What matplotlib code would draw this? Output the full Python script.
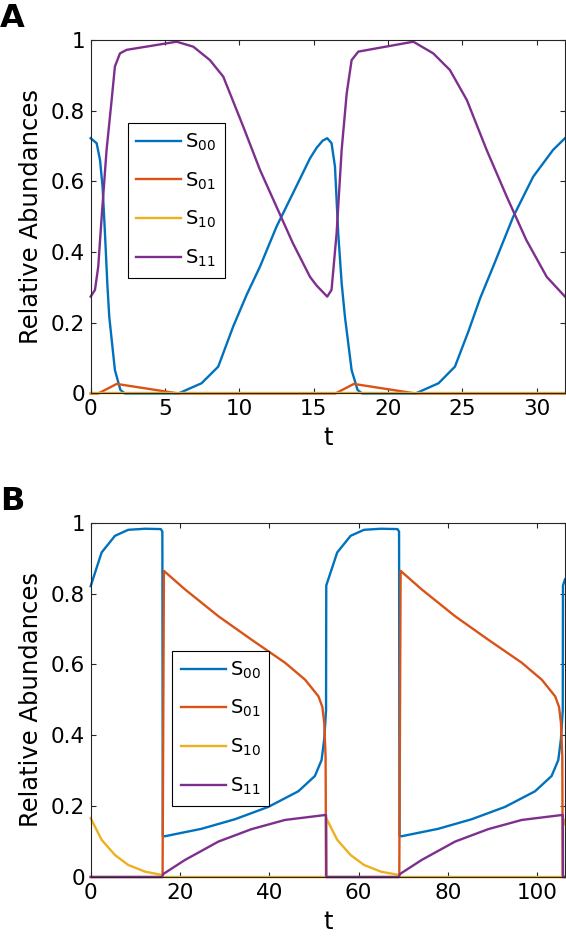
import matplotlib.pyplot as plt

plt.rcParams['mathtext.default'] = 'regular'
plt.rcParams['font.family'] = ['DejaVu Sans']

# panel A
a_x_s00 = [0, 0.4, 0.63, 0.8, 0.96, 1.12, 1.25, 1.63, 2.0, 2.3, 5.9, 7.46, 8.58, 9.59, 10.5, 11.39, 12.5, 13.6,
           14.75, 15.2, 15.6, 15.91, 16.2, 16.43, 16.65, 16.88, 17.1, 17.55, 17.95, 18.25, 21.85, 23.4, 24.5,
           25.4, 26.2, 27.07, 28.42, 29.76, 31.1, 31.9]
a_y_s00 = [0.722, 0.708, 0.66, 0.585, 0.454, 0.31, 0.217, 0.066, 0.01, 0.0, 0.0, 0.029, 0.076, 0.19, 0.28, 0.359,
           0.472, 0.566, 0.665, 0.695, 0.715, 0.722, 0.708, 0.642, 0.453, 0.312, 0.217, 0.066, 0.01, 0.0, 0.0,
           0.029, 0.076, 0.175, 0.27, 0.359, 0.5, 0.613, 0.689, 0.722]
a_x_s01 = [0, 0.51, 1.75, 5.9, 16.46, 17.7, 21.85, 31.9]
a_y_s01 = [0, 0, 0.027, 0, 0, 0.027, 0, 0]
a_x_s10 = [0, 31.9]
a_y_s10 = [0, 0]
a_x_s11 = [0, 0.29, 0.51, 0.74, 1.07, 1.41, 1.63, 1.97, 2.42, 5.78, 6.9, 8.02, 8.92, 10.26, 11.39, 12.5, 13.6,
           14.75, 15.2, 15.91, 16.2, 16.54, 16.88, 17.22, 17.55, 18.0, 21.7, 23.04, 24.16, 25.3, 26.63, 27.98,
           29.3, 30.67, 31.9]
a_y_s11 = [0.274, 0.293, 0.359, 0.5, 0.689, 0.83, 0.925, 0.962, 0.972, 0.995, 0.981, 0.943, 0.896, 0.755, 0.632,
           0.528, 0.425, 0.33, 0.305, 0.274, 0.293, 0.453, 0.689, 0.849, 0.943, 0.967, 0.995, 0.962, 0.915,
           0.83, 0.689, 0.557, 0.434, 0.33, 0.274]

# panel B
b_x_s00 = [0, 2.45, 5.44, 8.4, 12.2, 15.7, 16.05, 16.15, 16.6, 24.8, 32.3, 39.8, 46.5, 50.2, 51.7, 52.3, 52.7,
           52.75, 55.2, 58.2, 61.2, 65.0, 68.7, 69.05, 69.15, 69.6, 77.8, 85.3, 92.8, 99.5, 103.2, 104.7, 105.3,
           105.7, 105.75, 106.2]
b_y_s00 = [0.821, 0.916, 0.963, 0.98, 0.983, 0.982, 0.975, 0.116, 0.115, 0.136, 0.163, 0.198, 0.242, 0.285,
           0.33, 0.39, 0.47, 0.823, 0.916, 0.963, 0.98, 0.983, 0.982, 0.975, 0.116, 0.115, 0.136, 0.163, 0.198,
           0.242, 0.285, 0.33, 0.39, 0.47, 0.823, 0.84]
b_x_s01 = [0, 16.1, 16.4, 21.1, 28.6, 36.0, 43.5, 48.0, 51.0, 51.87, 52.3, 52.6, 52.7, 69.1, 69.4, 74.1, 81.6,
           89.0, 96.5, 101.0, 104.0, 104.87, 105.3, 105.6, 105.7, 106.2]
b_y_s01 = [0, 0, 0.864, 0.812, 0.736, 0.67, 0.605, 0.557, 0.51, 0.48, 0.435, 0.34, 0, 0, 0.864, 0.812, 0.736,
           0.67, 0.605, 0.557, 0.51, 0.48, 0.435, 0.34, 0, 0]
b_x_s10 = [0, 2.45, 5.44, 8.4, 12.2, 15.9, 16.2, 52.7, 52.75, 55.2, 58.2, 61.2, 65.0, 68.9, 69.2, 105.7,
           105.75, 106.2]
b_y_s10 = [0.166, 0.105, 0.062, 0.034, 0.015, 0.006, 0, 0, 0.166, 0.105, 0.062, 0.034, 0.015, 0.006, 0, 0,
           0.166, 0.15]
b_x_s11 = [0, 16.0, 16.2, 21.1, 28.6, 36.0, 43.5, 52.5, 52.7, 52.75, 69.0, 69.2, 74.1, 81.6, 89.0, 96.5, 105.5,
           105.7, 105.75, 106.2]
b_y_s11 = [0, 0, 0.008, 0.048, 0.1, 0.135, 0.161, 0.175, 0.175, 0, 0, 0.008, 0.048, 0.1, 0.135, 0.161, 0.175,
           0.175, 0, 0]

labels = ['$S_{00}$', '$S_{01}$', '$S_{10}$', '$S_{11}$']
colors = ['#0072BD', '#D95319', '#EDB120', '#7E2F8E']
yticks = [0, 0.2, 0.4, 0.6, 0.8, 1]
yticklabels = ['0', '0.2', '0.4', '0.6', '0.8', '1']

fig = plt.figure(figsize=(5.66, 9.42), dpi=100)
ax1 = fig.add_axes([0.1602, 0.5823, 0.838, 0.3753])
ax2 = fig.add_axes([0.1602, 0.069, 0.838, 0.3761])


def draw(ax, series, xlim, xticks, legend_pos):
    for (x, y), c, lab in zip(series, colors, labels):
        ax.plot(x, y, color=c, lw=1.7, label=lab, clip_on=False)
    ax.set_xlim(*xlim)
    ax.set_ylim(0, 1)
    ax.set_xticks(xticks)
    ax.set_yticks(yticks)
    ax.set_yticklabels(yticklabels)
    ax.tick_params(direction='in', length=3.5, width=0.8, top=True, right=True,
                   labelsize=15.5, pad=4, color='#262626')
    for s in ax.spines.values():
        s.set_linewidth(0.8)
        s.set_color('#262626')
    ax.set_xlabel('t', fontsize=17.5, labelpad=5)
    ax.set_ylabel('Relative Abundances', fontsize=17.5, labelpad=6)
    leg = ax.legend(loc='upper left', bbox_to_anchor=legend_pos, borderaxespad=0, fontsize=14,
                    handlelength=2.3, handletextpad=0.2, labelspacing=0.9, borderpad=0.45,
                    fancybox=False, framealpha=1, edgecolor='black')
    leg.get_frame().set_linewidth(0.8)


draw(ax1, [(a_x_s00, a_y_s00), (a_x_s01, a_y_s01), (a_x_s10, a_y_s10), (a_x_s11, a_y_s11)],
     (0, 31.9), [0, 5, 10, 15, 20, 25, 30], (0.078, 0.766))
draw(ax2, [(b_x_s00, b_y_s00), (b_x_s01, b_y_s01), (b_x_s10, b_y_s10), (b_x_s11, b_y_s11)],
     (0, 106.2), [0, 20, 40, 60, 80, 100], (0.172, 0.639))

fig.text(0.0, 0.971, 'A', fontsize=23, fontweight='bold', va='baseline')
fig.text(0.0, 0.4586, 'B', fontsize=23, fontweight='bold', va='baseline')

fig.savefig('out.png', dpi=100)
